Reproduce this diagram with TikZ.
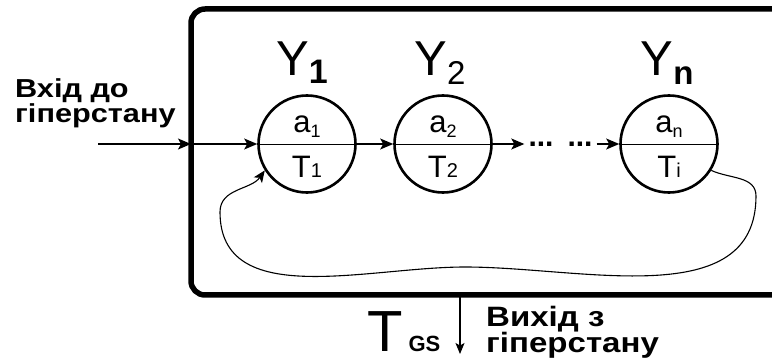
\documentclass[tikz,border=0pt]{standalone}
\usepackage{fontspec}
\setmainfont{Liberation Sans}
\newfontfamily\widefont[FakeStretch=1.18]{Liberation Sans}
\usetikzlibrary{arrows.meta, positioning}

\newcommand{\subtxt}[3]{\raisebox{-#1}{\fontsize{#2}{#2}\selectfont #3}}

\tikzset{
  hstate/.style={circle, draw, line width=2.6pt, minimum size=97pt, inner sep=0pt},
  flow/.style={line width=1.3pt, -{Stealth[length=13pt, width=11pt, inset=3pt]}},
  ylab/.style={anchor=base, inner sep=0pt, font=\fontsize{49}{49}\selectfont},
  inlab/.style={anchor=base, inner sep=0pt, font=\fontsize{31}{31}\selectfont},
  dots/.style={inner sep=0pt, inner xsep=4pt, text height=4.3pt, text depth=0pt,
    font=\bfseries\fontsize{30}{30}\selectfont},
  words/.style={anchor=base west, align=left, inner sep=0pt}
}

\begin{document}
\begin{tikzpicture}[x=1pt, y=1pt]
    \useasboundingbox (0,0) rectangle (772,362);
    % frame of the hyperstate (open to the right)
    \draw[line width=5.5pt, rounded corners=14pt] (772,353) -- (191,353) -- (191,67) -- (772,67);

    \node[hstate] (c1) at (307,218) {};
    \node[hstate] (c2) at (443,218) {};
    \node[hstate] (cn) at (669,218) {};
    \foreach \s in {c1,c2,cn}
    \draw[line width=0.9pt] (\s.west) -- (\s.east);

    \node[ylab] (y1) at ([xshift=-5pt, yshift=19pt]c1.north) {Y\subtxt{8pt}{34}{\textbf{1}}};
    \node[ylab] (y2) at ([xshift=-3pt, yshift=19pt]c2.north) {Y\subtxt{9pt}{33}{2}};
    \node[ylab] (yn) at ([xshift=-2pt, yshift=19pt]cn.north) {Y\subtxt{9pt}{33}{\textbf{n}}};

    \node[inlab] (a1) at ([yshift=11pt]c1.center) {a\subtxt{5pt}{18}{1}};
    \node[inlab] (a2) at ([yshift=11pt]c2.center) {a\subtxt{5pt}{18}{2}};
    \node[inlab] (an) at ([yshift=11pt]cn.center) {a\subtxt{5pt}{18}{n}};
    \node[inlab] (t1) at ([yshift=-34pt]c1.center) {T\subtxt{0pt}{20}{1}};
    \node[inlab] (t2) at ([yshift=-34pt]c2.center) {T\subtxt{0pt}{20}{2}};
    \node[inlab] (tn) at ([yshift=-34pt]cn.center) {T\subtxt{0pt}{20}{i}};

    % input
    \node[words, font=\widefont\bfseries\fontsize{26}{25}\selectfont] (intxt) at (15,239) {Вхід до\\гіперстану};
    \coordinate (inS) at (98,218);
    \coordinate (inB) at (191,218);
    \draw[flow] (inS) -- (inB);
    \draw[flow] (inB) -- (c1.west);
    \draw[flow] (c1.east) -- (c2.west);

    \node[dots] (dA) at (541,218) {...};
    \node[dots] (dB) at (580,218) {...};
    \draw[flow] (c2.east) -- (dA.west);
    \draw[flow] (dB.east) -- (cn.west);

    % feedback loop
    \draw[line width=1.1pt, -{Stealth[length=12pt, width=10pt, inset=3pt]}]
      (cn.-32) to[out=-25, in=90] (756,166) to[out=-90, in=0] (465,95)
      to[out=180, in=-90] (220,150) to[out=90, in=-125] (c1.-148);

    % output
    \coordinate (outS) at (460,67);
    \coordinate (outE) at (460,8);
    \draw[line width=1.1pt, -{Stealth[length=11pt, width=9pt, inset=2.5pt]}] (outS) -- (outE);
    \node[anchor=base west, inner sep=0pt] (tgs) at (367,11)
      {\fontsize{58}{58}\selectfont T\hspace{6pt}\textbf{\fontsize{22}{22}\selectfont GS}};
    \node[words, font=\widefont\bfseries\fontsize{28}{27}\selectfont] (outtxt) at (486,9) {Вихід з\\гіперстану};
\end{tikzpicture}
\end{document}
